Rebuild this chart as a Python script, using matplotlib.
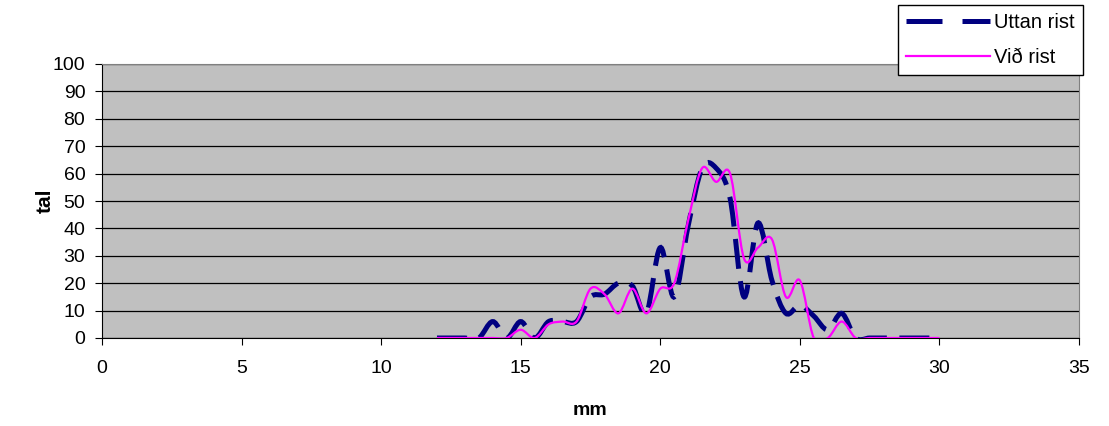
import numpy as np
import matplotlib
matplotlib.use('Agg')
import matplotlib.pyplot as plt
from matplotlib.path import Path
from matplotlib.patches import PathPatch
from matplotlib.lines import Line2D

# lengd (mm), hálfs mm bil
mm = [12, 12.5, 13, 13.5, 14, 14.5, 15, 15.5, 16, 16.5, 17, 17.5, 18, 18.5,
      19, 19.5, 20, 20.5, 21, 21.5, 22, 22.5, 23, 23.5, 24, 24.5, 25, 25.5,
      26, 26.5, 27, 27.5, 28, 28.5, 29, 29.5, 30]
uttan = [0, 0, 0, 0, 6, 0, 6, 0, 6, 6, 6, 15, 16, 20, 19, 9, 33, 15, 41, 62,
         62, 51, 15, 42, 21, 9, 12, 8, 3, 9, 0, 0, 0, 0, 0, 0, 0]
vid = [0, 0, 0, 0, 0, 0, 3, 0, 5, 6, 6, 18, 16, 9, 18, 9, 18, 20, 43, 62,
       57, 60, 29, 33, 36, 15, 21, 0, 0, 6, 0, 0, 0, 0, 0, 0, 0]

FONT = 'Liberation Sans'


def smooth_path(xs, ys):
    # Excel-style smoothed line: cubic Bezier through the points
    p = np.column_stack([xs, ys]).astype(float)
    n = len(p)
    verts = [p[0]]
    codes = [Path.MOVETO]
    for i in range(n - 1):
        p0 = p[i - 1] if i > 0 else p[i]
        p3 = p[i + 2] if i + 2 < n else p[i + 1]
        c1 = p[i] + (p[i + 1] - p0) / 6
        c2 = p[i + 1] - (p3 - p[i]) / 6
        verts += [c1, c2, p[i + 1]]
        codes += [Path.CURVE4] * 3
    return Path(verts, codes)


fig = plt.figure(figsize=(11.09, 4.26), dpi=100)
ax = fig.add_axes([102 / 1109, 88 / 426, 977 / 1109, 274 / 426])
ax.set_facecolor('#C0C0C0')

ax.add_patch(PathPatch(smooth_path(mm, uttan), fill=False, edgecolor='#000080',
                       lw=3.6, linestyle=(0, (6, 2.5)), capstyle='butt', zorder=3))
ax.add_patch(PathPatch(smooth_path(mm, vid), fill=False, edgecolor='#FF00FF',
                       lw=1.6, zorder=4))

ax.set_xlim(0, 35)
ax.set_ylim(0, 100)
ax.set_xticks(range(0, 36, 5))
ax.set_yticks(range(0, 101, 10))
ax.yaxis.grid(True, color='black', lw=0.9)
ax.set_axisbelow(True)
ax.tick_params(direction='out', length=5, labelsize=14, colors='black')
ax.tick_params(axis='x', pad=11)
ax.tick_params(axis='y', pad=7)
for lab in ax.get_xticklabels() + ax.get_yticklabels():
    lab.set_family(FONT)
ax.spines['left'].set_color('black')
ax.spines['bottom'].set_color('black')
ax.spines['top'].set_color('#808080')
ax.spines['right'].set_color('#808080')

ax.set_xlabel('mm', family=FONT, fontsize=14, fontweight='bold')
ax.set_ylabel('tal', family=FONT, fontsize=15, fontweight='bold')
ax.xaxis.set_label_coords(0.5, -0.266)
ax.yaxis.set_label_coords(-0.058, 0.5)
ax.xaxis.label.set_va('center')
ax.yaxis.label.set_va('center')

handles = [Line2D([], [], color='#000080', lw=3.6, linestyle=(0, (7.2, 4))),
           Line2D([], [], color='#FF00FF', lw=1.6)]
fig.legend(handles, ['Uttan rist', 'Við rist'], loc='upper right',
           bbox_to_anchor=(1083 / 1109, 1 - 5 / 426), fancybox=False,
           edgecolor='black', framealpha=1, prop={'family': FONT, 'size': 14.5},
           handlelength=4.2, handletextpad=0.2, borderpad=0.4, labelspacing=0.8,
           borderaxespad=0)

fig.savefig('out.png', dpi=100)
